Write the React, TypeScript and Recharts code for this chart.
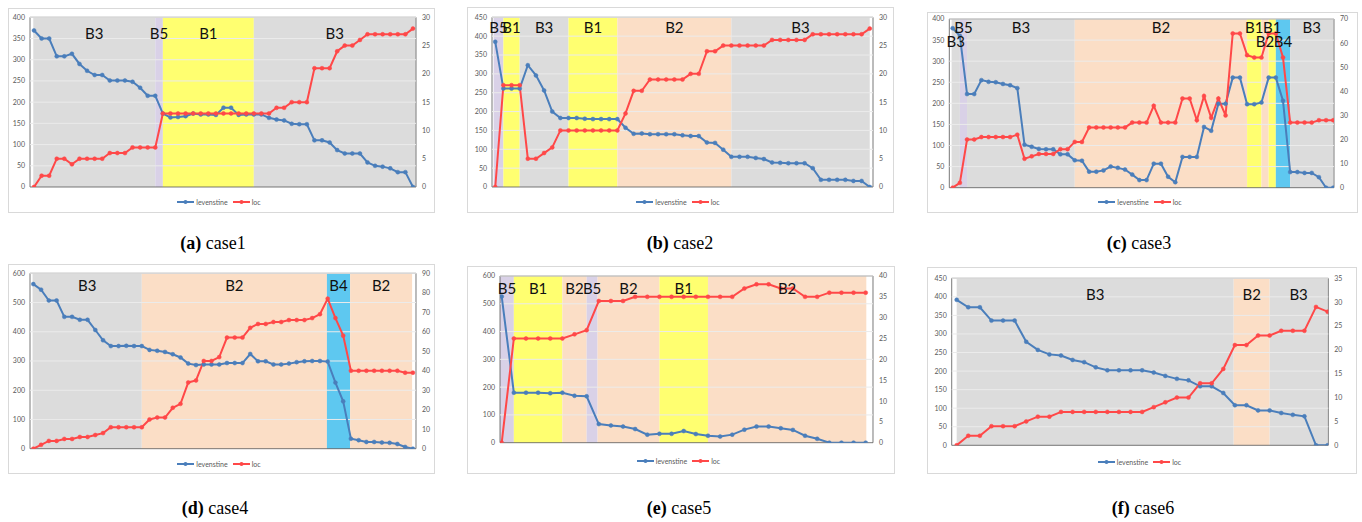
import React from 'react';
import { LineChart, Line, XAxis, YAxis, ReferenceArea, ReferenceLine } from 'recharts';

const BLUE = '#4a7ebb';
const RED = '#ff4848';
const FONT = 'Lato, "Liberation Sans", sans-serif';

// band colour by block name
const BAND_FILL: Record<string, string> = {
  B1: '#ffff70',
  B2: '#fbdec6',
  B3: '#dcdcdc',
  B4: '#5ec8f0',
  B5: '#d9d1e7',
};

// [name, from index, to index, label on second row]
type Band = [string, number, number, boolean?];

// ---- case1 ----
const case1Lev = [369, 350, 350, 308, 308, 314, 290, 274, 264, 264, 251, 251, 251, 248, 234, 215, 215, 173, 164, 165, 167, 173, 171, 171, 170, 187, 187, 170, 171, 171, 171, 163, 159, 157, 149, 148, 148, 110, 110, 105, 87, 79, 79, 79, 58, 50, 48, 44, 35, 35, 0];
const case1Loc = [0, 2, 2, 5, 5, 4, 5, 5, 5, 5, 6, 6, 6, 7, 7, 7, 7, 13, 13, 13, 13, 13, 13, 13, 13, 13, 13, 13, 13, 13, 13, 13, 14, 14, 15, 15, 15, 21, 21, 21, 24, 25, 25, 26, 27, 27, 27, 27, 27, 27, 28];
const case1LeftTicks = [0, 50, 100, 150, 200, 250, 300, 350, 400];
const case1RightTicks = [0, 5, 10, 15, 20, 25, 30];
const case1Bands: Band[] = [['B3', -0.1, 16], ['B5', 16, 17], ['B1', 17, 29], ['B3', 29, 50.35]];

// ---- case2 ----
const case2Lev = [385, 261, 261, 261, 323, 296, 256, 200, 183, 183, 183, 181, 180, 180, 180, 180, 157, 141, 142, 140, 140, 140, 140, 137, 135, 135, 118, 117, 99, 80, 80, 80, 77, 74, 65, 64, 63, 63, 63, 50, 19, 19, 19, 19, 16, 16, 0];
const case2Loc = [0, 18, 18, 18, 5, 5, 6, 7, 10, 10, 10, 10, 10, 10, 10, 10, 13, 17, 17, 19, 19, 19, 19, 19, 20, 20, 24, 24, 25, 25, 25, 25, 25, 25, 26, 26, 26, 26, 26, 27, 27, 27, 27, 27, 27, 27, 28];
const case2LeftTicks = [0, 50, 100, 150, 200, 250, 300, 350, 400, 450];
const case2RightTicks = [0, 5, 10, 15, 20, 25, 30];
const case2Bands: Band[] = [['B5', -0.2, 1], ['B1', 1, 3], ['B3', 3, 9], ['B1', 9, 15], ['B2', 15, 29], ['B3', 29, 46]];

// ---- case3 ----
const case3Lev = [378, 360, 222, 222, 255, 251, 250, 246, 243, 236, 102, 97, 92, 91, 91, 79, 79, 65, 64, 38, 38, 41, 50, 47, 43, 31, 18, 18, 57, 57, 26, 13, 73, 73, 73, 144, 135, 199, 199, 261, 261, 198, 198, 202, 261, 261, 206, 37, 37, 35, 35, 25, 0, 0];
const case3Loc = [0, 2, 20, 20, 21, 21, 21, 21, 21, 22, 12, 13, 14, 14, 14, 16, 16, 19, 19, 25, 25, 25, 25, 25, 25, 27, 27, 27, 34, 27, 27, 27, 37, 37, 28, 38, 29, 37, 30, 64, 64, 55, 54, 54, 64, 64, 54, 27, 27, 27, 27, 28, 28, 28];
const case3LeftTicks = [0, 50, 100, 150, 200, 250, 300, 350, 400];
const case3RightTicks = [0, 10, 20, 30, 40, 50, 60, 70];
const case3Bands: Band[] = [['B3', -0.15, 1, true], ['B5', 1, 2], ['B3', 2, 17], ['B2', 17, 41], ['B1', 41, 43], ['B2', 43, 44, true], ['B1', 44, 45], ['B4', 45, 47, true], ['B3', 47, 53]];

// ---- case4 ----
const case4Lev = [563, 544, 507, 507, 451, 451, 441, 441, 406, 371, 351, 351, 352, 351, 351, 338, 335, 331, 323, 312, 291, 286, 288, 288, 288, 293, 293, 293, 324, 299, 299, 288, 288, 291, 296, 299, 300, 300, 298, 226, 162, 34, 29, 23, 23, 21, 20, 16, 6, 0];
const case4Loc = [0, 2, 4, 4, 5, 5, 6, 6, 7, 8, 11, 11, 11, 11, 11, 15, 16, 16, 21, 23, 34, 35, 45, 45, 47, 57, 57, 57, 62, 64, 64, 65, 65, 66, 66, 66, 67, 69, 77, 67, 58, 40, 40, 40, 40, 40, 40, 40, 39, 39];
const case4LeftTicks = [0, 100, 200, 300, 400, 500, 600];
const case4RightTicks = [0, 10, 20, 30, 40, 50, 60, 70, 80, 90];
const case4Bands: Band[] = [['B3', -0.1, 14], ['B2', 14, 37.9], ['B4', 37.9, 40.9], ['B2', 40.9, 48.9]];

// ---- case5 ----
const case5Lev = [526, 180, 180, 180, 178, 180, 169, 167, 67, 62, 58, 49, 29, 32, 32, 42, 31, 25, 22, 29, 47, 58, 58, 52, 46, 25, 14, 0, 0, 0, 0];
const case5Loc = [0, 25, 25, 25, 25, 25, 26, 27, 34, 34, 34, 35, 35, 35, 35, 35, 35, 35, 35, 35, 37, 38, 38, 37, 37, 35, 35, 36, 36, 36, 36];
const case5LeftTicks = [0, 100, 200, 300, 400, 500, 600];
const case5RightTicks = [0, 5, 10, 15, 20, 25, 30, 35, 40];
const case5Bands: Band[] = [['B5', -0.14, 1], ['B1', 1, 5], ['B2', 5, 7], ['B5', 7, 7.9], ['B2', 7.9, 13], ['B1', 13, 17], ['B2', 17, 30.05]];

// ---- case6 ----
const case6Lev = [392, 372, 372, 336, 336, 336, 279, 257, 245, 242, 230, 224, 210, 202, 202, 202, 202, 196, 187, 179, 175, 159, 159, 141, 108, 108, 94, 94, 87, 82, 78, 0, 0];
const case6Loc = [0, 2, 2, 4, 4, 4, 5, 6, 6, 7, 7, 7, 7, 7, 7, 7, 7, 8, 9, 10, 10, 13, 13, 16, 21, 21, 23, 23, 24, 24, 24, 29, 28];
const case6LeftTicks = [0, 50, 100, 150, 200, 250, 300, 350, 400, 450];
const case6RightTicks = [0, 5, 10, 15, 20, 25, 30, 35];
const case6Bands: Band[] = [['B3', 0, 23.9], ['B2', 23.9, 27], ['B3', 27, 32]];

interface PanelProps {
  tag: string;
  caption: string;
  lev: number[];
  loc: number[];
  leftTicks: number[];
  rightTicks: number[];
  bands: Band[];
  box: { x: number; y: number; w: number; h: number };
  frame: { l: number; r: number; t: number; b: number };
  xDomain: [number, number];
  labelOffset: number;
  legendY: number;
  captionX: number;
  captionY: number;
}

const panels: PanelProps[] = [
  {
    tag: 'a', caption: 'case1', lev: case1Lev, loc: case1Loc, leftTicks: case1LeftTicks, rightTicks: case1RightTicks, bands: case1Bands,
    box: { x: 8, y: 8, w: 427, h: 205 }, frame: { l: 30, r: 416, t: 17.3, b: 187 }, xDomain: [-0.53, 50.4],
    labelOffset: 11, legendY: 202, captionX: 213, captionY: 243,
  },
  {
    tag: 'b', caption: 'case2', lev: case2Lev, loc: case2Loc, leftTicks: case2LeftTicks, rightTicks: case2RightTicks, bands: case2Bands,
    box: { x: 467, y: 7, w: 427, h: 206 }, frame: { l: 492, r: 873, t: 17.3, b: 187 }, xDomain: [-0.4, 46.4],
    labelOffset: 5.5, legendY: 202, captionX: 680, captionY: 243,
  },
  {
    tag: 'c', caption: 'case3', lev: case3Lev, loc: case3Loc, leftTicks: case3LeftTicks, rightTicks: case3RightTicks, bands: case3Bands,
    box: { x: 927, y: 12, w: 431, h: 201 }, frame: { l: 949.3, r: 1334, t: 19, b: 187.7 }, xDomain: [-0.47, 53.1],
    labelOffset: 3, legendY: 202, captionX: 1139, captionY: 243,
  },
  {
    tag: 'd', caption: 'case4', lev: case4Lev, loc: case4Loc, leftTicks: case4LeftTicks, rightTicks: case4RightTicks, bands: case4Bands,
    box: { x: 8, y: 264, w: 427, h: 210 }, frame: { l: 30, r: 416, t: 273.3, b: 448.7 }, xDomain: [-0.43, 49.4],
    labelOffset: 6.7, legendY: 464, captionX: 215, captionY: 508,
  },
  {
    tag: 'e', caption: 'case5', lev: case5Lev, loc: case5Loc, leftTicks: case5LeftTicks, rightTicks: case5RightTicks, bands: case5Bands,
    box: { x: 467, y: 266, w: 428, h: 208 }, frame: { l: 500, r: 873, t: 276, b: 442.7 }, xDomain: [-0.14, 30.6],
    labelOffset: 7.3, legendY: 461, captionX: 679, captionY: 508,
  },
  {
    tag: 'f', caption: 'case6', lev: case6Lev, loc: case6Loc, leftTicks: case6LeftTicks, rightTicks: case6RightTicks, bands: case6Bands,
    box: { x: 927, y: 267, w: 430, h: 207 }, frame: { l: 951.7, r: 1328.3, t: 278.3, b: 445.3 }, xDomain: [-0.43, 32.06],
    labelOffset: 11, legendY: 462, captionX: 1143, captionY: 508,
  },
];

function LegendItem({ color, text }: { color: string; text: string }) {
  return (
    <span style={{ display: 'inline-flex', alignItems: 'center', marginRight: 5 }}>
      <svg width={17} height={6} style={{ display: 'block' }}>
        <line x1={0} y1={3} x2={17} y2={3} stroke={color} strokeWidth={2} />
        <circle cx={8.5} cy={3} r={2} fill={color} />
      </svg>
      <span style={{ marginLeft: 2 }}>{text}</span>
    </span>
  );
}

function Panel(p: PanelProps) {
  const data = p.lev.map((v, i) => ({ i, levenstine: v, loc: p.loc[i] }));
  const leftMax = p.leftTicks[p.leftTicks.length - 1];
  const rightMax = p.rightTicks[p.rightTicks.length - 1];
  const leftW = p.frame.l - p.box.x;
  const rightW = p.box.x + p.box.w - p.frame.r;
  const top = p.frame.t - p.box.y;
  const bottomPad = 6;
  const chartH = p.frame.b - p.box.y + bottomPad;
  const tickStyle = { fontSize: 7, fill: '#595959', fontFamily: FONT };

  return (
    <>
      <div
        style={{
          position: 'absolute',
          left: p.box.x,
          top: p.box.y,
          width: p.box.w,
          height: p.box.h,
          border: '1px solid #d9d9d9',
          boxSizing: 'border-box',
        }}
      />
      <div style={{ position: 'absolute', left: p.box.x, top: p.box.y }}>
        <LineChart
          width={p.box.w}
          height={chartH}
          data={data}
          margin={{ top, right: 0, bottom: bottomPad, left: 0 }}
        >
          <XAxis dataKey="i" type="number" domain={p.xDomain} allowDataOverflow hide />
          <YAxis
            yAxisId="left"
            domain={[0, leftMax]}
            ticks={p.leftTicks}
            interval={0}
            allowDataOverflow
            width={leftW}
            axisLine={false}
            tickLine={false}
            tickSize={3}
            tickMargin={2}
            tick={tickStyle}
          />
          <YAxis
            yAxisId="right"
            orientation="right"
            domain={[0, rightMax]}
            ticks={p.rightTicks}
            interval={0}
            allowDataOverflow
            width={rightW}
            axisLine={false}
            tickLine={false}
            tickSize={4}
            tickMargin={2}
            tick={tickStyle}
          />
          {p.bands.map(([name, x1, x2, low], k) => (
            <ReferenceArea
              key={`band-${k}`}
              yAxisId="left"
              x1={x1}
              x2={x2}
              y1={0}
              y2={leftMax}
              fill={BAND_FILL[name]}
              fillOpacity={1}
              stroke="none"
              label={{
                value: name,
                position: 'insideTop',
                offset: low ? p.labelOffset + 14 : p.labelOffset,
                fontSize: 15,
                fill: '#111',
                fontFamily: FONT,
              }}
            />
          ))}
          {p.leftTicks.slice(1).map((t) => (
            <ReferenceLine key={`grid-${t}`} yAxisId="left" y={t} stroke="#ebebeb" strokeWidth={1} />
          ))}
          <ReferenceArea
            yAxisId="left"
            x1={p.xDomain[0]}
            x2={p.xDomain[1]}
            y1={0}
            y2={leftMax}
            fill="none"
            stroke="#555"
            strokeWidth={0.8}
          />
          <Line
            yAxisId="left"
            dataKey="levenstine"
            stroke={BLUE}
            strokeWidth={2}
            dot={{ r: 2, fill: BLUE, stroke: BLUE, strokeWidth: 0.5 }}
            activeDot={false}
            isAnimationActive={false}
          />
          <Line
            yAxisId="right"
            dataKey="loc"
            stroke={RED}
            strokeWidth={2}
            dot={{ r: 2, fill: RED, stroke: RED, strokeWidth: 0.5 }}
            activeDot={false}
            isAnimationActive={false}
          />
        </LineChart>
      </div>
      <div
        style={{
          position: 'absolute',
          left: p.box.x,
          width: p.box.w,
          top: p.legendY - 6,
          height: 12,
          display: 'flex',
          justifyContent: 'center',
          alignItems: 'center',
          fontFamily: FONT,
          fontSize: 7,
          color: '#595959',
        }}
      >
        <LegendItem color={BLUE} text="levenstine" />
        <LegendItem color={RED} text="loc" />
      </div>
      <div
        style={{
          position: 'absolute',
          left: p.captionX - 100,
          width: 200,
          top: p.captionY - 11,
          textAlign: 'center',
          fontFamily: '"Liberation Serif", "DejaVu Serif", serif',
          fontSize: 18,
          lineHeight: '22px',
          color: '#000',
        }}
      >
        <b>({p.tag})</b> {p.caption}
      </div>
    </>
  );
}

export default function App() {
  return (
    <div
      style={{
        position: 'absolute',
        left: 0,
        top: 0,
        width: 1362,
        height: 522,
        background: '#fff',
        overflow: 'hidden',
      }}
    >
      {panels.map((p) => (
        <Panel key={p.tag} {...p} />
      ))}
    </div>
  );
}
